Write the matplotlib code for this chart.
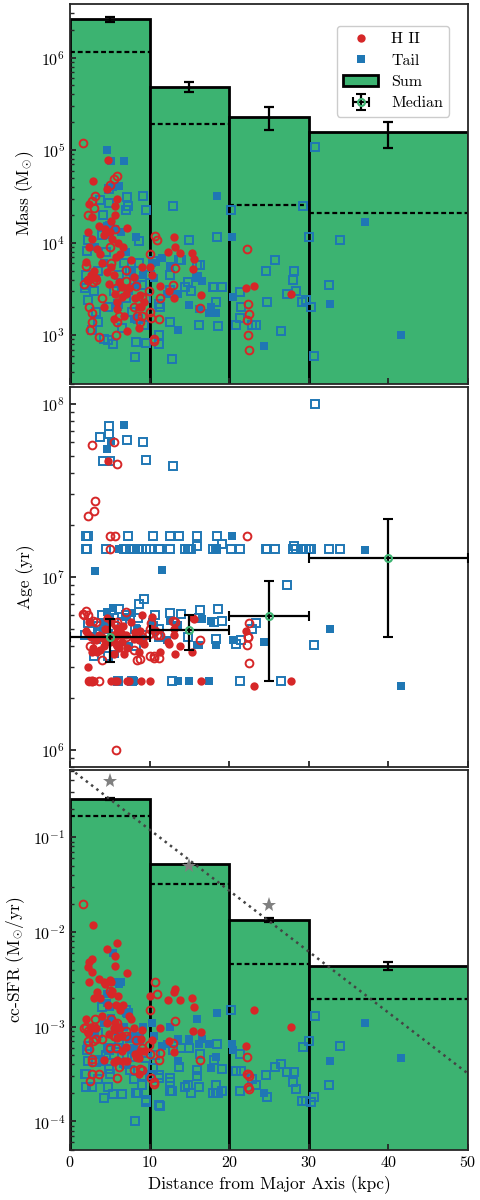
import numpy as np
import matplotlib
matplotlib.use("Agg")
import matplotlib.pyplot as plt

plt.rcParams.update({
    "font.family": "serif",
    "font.serif": ["cmr10"],
    "mathtext.fontset": "cm",
    "axes.unicode_minus": False,
    "axes.formatter.use_mathtext": True,
    "font.size": 11,
    "axes.labelsize": 12.5,
})

# ---- binned quantities ----
bin_edges = [0, 10, 20, 30, 50]
mass_sum = [2.6e6, 4.8e5, 2.26e5, 1.56e5]
mass_err_lo = [1.5e5, 6.0e4, 6.1e4, 5.0e4]
mass_err_hi = [1.6e5, 7.0e4, 6.4e4, 4.8e4]
mass_dash = [1.14e6, 1.94e5, 2.56e4, 2.07e4]

age_med = [4.48e6, 4.94e6, 5.97e6, 1.28e7]
age_err_lo = [1.24e6, 1.16e6, 3.47e6, 8.3e6]
age_err_hi = [1.22e6, 1.11e6, 3.53e6, 8.7e6]

sfr_sum = [0.255, 0.0528, 0.0134, 0.00438]
sfr_err = [0.007, 0.0, 0.0006, 0.00045]
sfr_dash = [0.167, 0.0325, 0.00465, 0.00197]

star_x = [5, 15, 25]
star_sfr = [0.39, 0.0496, 0.0192]
fit_x = [0, 50]
fit_sfr = [0.53, 3.2e-4]

# ---- H II regions, filled ----
hf_x = [2.9, 4.8, 4.7, 5.9, 5.7, 2.4, 2.7, 5.6, 2.2, 7.2, 2.8, 4.2, 5.0, 5.3, 6.0, 2.4, 3.4,
        3.7, 5.8, 6.3, 4.0, 3.0, 2.6, 2.3, 3.2, 4.6, 5.2, 5.5, 6.1, 6.5, 7.0, 7.4, 8.0, 8.2,
        8.6, 8.8, 9.3, 6.8, 4.3, 5.5, 5.9, 8.6, 7.6, 6.7, 9.0, 10.1, 10.3, 11.3, 12.3, 13.1,
        13.2, 13.8, 13.0, 15.3, 15.6, 15.5, 16.5, 22.1, 23.1, 27.7, 12.4, 4.4, 3.6, 5.1, 6.5,
        4.9, 8.9, 2.0, 5.6, 5.9, 7.2]
hf_mass = [4.7e4, 7.9e4, 3.8e4, 3.0e4, 2.5e4, 2.6e4, 1.9e4, 2.0e4, 1.3e4, 1.45e4, 1.1e4, 1.2e4,
           1.3e4, 1.1e4, 1.0e4, 9.0e3, 8.5e3, 7.5e3, 7.0e3, 7.5e3, 6.0e3, 5.0e3, 4.5e3, 4.0e3,
           4.2e3, 4.8e3, 5.5e3, 4.5e3, 3.8e3, 3.3e3, 2.8e3, 3.2e3, 4.3e3, 2.5e3, 2.0e3, 2.7e3,
           2.3e3, 1.6e3, 2.0e3, 1.5e3, 2.3e3, 1.2e3, 6.5e3, 9.0e3, 5.5e3, 5.4e3, 4.5e3, 3.4e3,
           7.9e3, 1.15e4, 9.0e3, 7.7e3, 2.5e3, 7.7e3, 6.6e3, 5.2e3, 2.7e3, 3.2e3, 3.4e3, 2.8e3,
           3.0e3, 1.4e4, 1.5e4, 1.7e4, 2.6e3, 3.6e3, 2.0e3, 6.2e3, 2.8e3, 1.9e3, 1.1e3]
hf_age = [3.9e6, 4.7e7, 5.8e6, 4.0e6, 4.5e6, 5.5e6, 3.7e6, 4.5e6, 3.0e6, 3.9e6, 2.5e6, 4.0e6,
          4.2e6, 4.5e6, 4.8e6, 2.5e6, 3.7e6, 3.8e6, 4.1e6, 5.0e6, 4.5e6, 2.5e6, 4.5e6, 4.7e6,
          4.3e6, 4.4e6, 2.5e6, 4.6e6, 3.9e6, 4.2e6, 4.6e6, 2.5e6, 4.4e6, 4.8e6, 4.3e6, 4.9e6,
          4.1e6, 3.6e6, 4.4e6, 3.6e6, 5.1e6, 3.7e6, 5.5e6, 5.2e6, 6.0e6, 2.5e6, 5.9e6, 3.7e6,
          4.2e6, 5.0e6, 3.6e6, 4.0e6, 4.6e6, 3.7e6, 5.7e6, 5.8e6, 2.5e6, 4.9e6, 2.35e6, 2.5e6,
          4.1e6, 5.0e6, 4.6e6, 5.6e6, 4.7e6, 4.3e6, 2.5e6, 4.9e6, 2.5e6, 2.5e6, 2.5e6]
hf_sfr = [1.2e-2, 1.7e-3, 6.6e-3, 7.6e-3, 5.6e-3, 4.8e-3, 5.2e-3, 4.4e-3, 4.3e-3, 3.7e-3, 3.8e-3,
          3.0e-3, 3.1e-3, 2.4e-3, 2.1e-3, 3.0e-3, 2.3e-3, 2.0e-3, 1.7e-3, 1.5e-3, 1.3e-3, 2.0e-3,
          1.0e-3, 8.5e-4, 9.8e-4, 1.1e-3, 2.2e-3, 9.8e-4, 9.7e-4, 7.9e-4, 6.1e-4, 1.3e-3, 9.8e-4,
          5.2e-4, 4.7e-4, 5.5e-4, 5.6e-4, 4.4e-4, 4.5e-4, 4.2e-4, 4.5e-4, 3.2e-4, 1.2e-3, 1.7e-3,
          9.2e-4, 2.1e-3, 7.3e-4, 9.7e-4, 1.9e-3, 2.3e-3, 2.5e-3, 1.9e-3, 5.4e-4, 2.0e-3, 1.6e-3,
          9.0e-4, 8.8e-4, 6.3e-4, 1.5e-3, 9.9e-4, 7.0e-4, 2.8e-3, 3.2e-3, 3.0e-3, 5.5e-4, 8.4e-4,
          7.5e-4, 1.2e-3, 1.1e-3, 7.6e-4, 4.4e-4]

# ---- H II regions, open ----
ho_x = [1.6, 5.5, 5.9, 5.0, 3.1, 2.7, 3.0, 2.3, 5.6, 5.0, 5.8, 2.0, 2.3, 2.9, 3.2, 2.4, 2.8,
        2.7, 2.5, 3.6, 5.2, 7.0, 7.0, 5.8, 6.2, 5.9, 8.3, 9.0, 8.4, 9.0, 10.0, 9.95, 10.1, 10.2,
        10.5, 10.5, 10.7, 10.9, 13.2, 12.9, 11.3, 11.2, 16.3, 22.2, 22.4, 22.5, 22.2, 22.3, 22.5,
        1.8, 4.0, 8.0, 8.8]
ho_mass = [1.2e5, 4.9e4, 5.2e4, 4.2e4, 3.2e4, 2.8e4, 2.4e4, 2.0e4, 1.4e4, 9.0e3, 1.0e3, 5.6e3,
           4.0e3, 3.8e3, 4.0e3, 2.0e3, 1.75e3, 1.4e3, 1.15e3, 9.6e2, 6.0e3, 5.1e3, 3.9e3, 3.2e3,
           1.6e3, 1.4e3, 3.4e3, 2.6e3, 1.6e3, 1.6e3, 7.5e3, 3.0e3, 1.8e3, 1.55e3, 9.1e2, 8.6e2,
           1.17e4, 1.08e4, 5.3e3, 3.5e3, 2.5e3, 1.5e3, 1.95e3, 8.6e3, 2.2e3, 1.7e3, 1.45e3, 1.0e3,
           6.9e2, 3.6e3, 2.5e3, 2.0e3, 1.4e3]
ho_age = [6.1e6, 6.0e7, 4.5e7, 1.73e7, 2.75e7, 5.8e7, 2.4e7, 2.25e7, 1.73e7, 1.45e7, 1.0e6, 6.4e6,
          6.0e6, 5.6e6, 5.5e6, 2.5e6, 2.5e6, 2.5e6, 4.0e6, 2.5e6, 5.0e6, 6.3e6, 4.5e6, 5.3e6,
          4.2e6, 5.5e6, 4.6e6, 4.3e6, 3.3e6, 4.5e6, 5.0e6, 4.7e6, 3.5e6, 5.4e6, 3.5e6, 3.4e6,
          4.9e6, 4.6e6, 5.5e6, 5.6e6, 4.6e6, 3.4e6, 4.3e6, 1.73e7, 4.5e6, 5.4e6, 4.05e6, 4.5e6,
          3.2e6, 6.0e6, 3.3e6, 3.8e6, 3.35e6]
ho_sfr = [1.96e-2, 8.0e-4, 1.1e-3, 2.4e-3, 1.2e-3, 4.6e-4, 1.0e-3, 9.0e-4, 8.0e-4, 6.0e-4, 1.0e-3,
          1.0e-3, 7.1e-4, 7.0e-4, 7.5e-4, 5.8e-4, 4.2e-4, 3.2e-4, 2.7e-4, 3.2e-4, 1.2e-3, 8.0e-4,
          9.0e-4, 6.0e-4, 3.8e-4, 2.9e-4, 7.3e-4, 6.0e-4, 4.8e-4, 3.5e-4, 1.5e-3, 6.4e-4, 5.1e-4,
          2.9e-4, 2.6e-4, 2.5e-4, 2.95e-3, 2.2e-3, 1.15e-3, 6.7e-4, 5.3e-4, 4.5e-4, 4.5e-4, 4.8e-4,
          3.2e-4, 3.0e-4, 3.2e-4, 2.3e-4, 2.2e-4, 9.6e-4, 7.5e-4, 3.5e-4, 3.6e-4]

# ---- tail clusters, filled ----
tf_x = [4.7, 5.2, 6.8, 6.2, 5.4, 18.5, 37.1, 41.6, 32.7, 24.4, 20.3, 20.5, 3.1, 11.6, 8.3, 12.2,
        13.5, 15.0, 16.0, 16.6, 16.2, 17.7, 17.5, 18.3, 13.5, 5.6, 6.4, 4.7, 5.0, 7.0, 7.8, 8.4,
        4.2, 7.4, 9.1, 10.3, 10.6, 6.0, 8.0, 12.6]
tf_mass = [1.0e5, 7.6e4, 7.6e4, 4.1e4, 4.0e4, 3.2e4, 1.66e4, 1.0e3, 2.2e3, 7.7e2, 1.14e4, 2.6e3,
           9.0e3, 6.8e3, 1.15e4, 2.8e3, 1.15e3, 2.1e3, 4.3e3, 3.9e3, 1.9e3, 2.0e3, 1.75e3, 1.75e3,
           2.8e3, 1.4e4, 1.3e4, 1.5e4, 1.2e4, 8.0e3, 5.0e3, 3.5e3, 6.0e3, 3.0e3, 4.5e3, 6.0e3,
           4.2e3, 2.0e3, 1.5e3, 5.6e3]
tf_age = [5.5e7, 6.1e7, 7.6e7, 1.45e7, 6.6e6, 1.45e7, 1.44e7, 2.35e6, 5.0e6, 4.2e6, 1.73e7, 4.3e6,
          1.08e7, 1.1e7, 1.45e7, 4.3e6, 2.5e6, 2.5e6, 4.05e6, 5.7e6, 4.05e6, 5.6e6, 2.5e6, 4.05e6,
          5.3e6, 3.6e6, 4.6e6, 6.3e6, 5.7e6, 5.9e6, 6.2e6, 5.0e6, 5.5e6, 4.0e6, 4.4e6, 5.5e6,
          5.3e6, 2.5e6, 2.5e6, 5.6e6]
tf_sfr = [1.8e-3, 1.25e-3, 1.0e-3, 2.8e-3, 6.0e-3, 1.4e-3, 1.1e-3, 4.7e-4, 4.4e-4, 2.0e-4, 6.5e-4,
          5.7e-4, 8.5e-4, 6.2e-4, 8.0e-4, 6.6e-4, 4.4e-4, 7.5e-4, 1.2e-3, 7.5e-4, 6.5e-4, 3.7e-4,
          6.5e-4, 4.8e-4, 7.5e-4, 3.0e-3, 3.0e-3, 2.2e-3, 1.6e-3, 1.4e-3, 8.0e-4, 7.0e-4, 1.1e-3,
          7.5e-4, 1.0e-3, 1.1e-3, 8.0e-4, 8.0e-4, 6.0e-4, 1.0e-3]

# ---- tail clusters, open ----
to_x = [30.8, 9.1, 7.1, 3.8, 4.9, 4.9, 9.6, 12.9, 4.1, 5.0, 7.3, 7.0, 20.2, 29.3, 33.9, 30.0,
        18.4, 14.9, 8.6, 2.3, 2.1, 6.8, 7.5, 8.0, 9.0, 9.5, 10.0, 11.2, 11.3, 12.6, 12.6, 13.7,
        10.4, 15.9, 14.5, 14.8, 15.2, 15.9, 18.0, 19.1, 18.3, 21.3, 24.7, 25.8, 28.1, 28.4, 29.7,
        32.5, 21.4, 26.5, 22.9, 23.3, 20.8, 24.6, 27.3, 30.6, 29.1, 30.3, 28.0, 21.5, 12.8, 11.2,
        11.2, 12.5, 16.2, 18.6, 16.3, 18.1, 19.1, 13.9, 10.7, 18.3, 14.8, 2.0, 2.0, 4.5, 3.0, 4.8,
        8.2, 8.3, 5.4, 4.3, 4.8, 9.5, 2.8, 1.9, 3.5, 6.5, 8.5, 7.0, 5.5, 6.2, 3.5, 4.0, 9.3, 8.6,
        7.8, 6.0, 3.3, 2.2]
to_mass = [1.07e5, 3.2e4, 3.1e4, 2.9e4, 2.7e4, 3.8e4, 2.25e4, 2.5e4, 2.0e4, 1.5e4, 2.5e4, 2.25e4,
           2.25e4, 2.5e4, 1.07e4, 1.14e4, 1.14e4, 1.07e4, 1.05e4, 1.07e4, 8.2e3, 6.0e3, 5.0e3, 4.0e3,
           3.5e3, 2.5e3, 4.5e3, 2.2e3, 2.0e3, 3.1e3, 4.5e3, 6.5e3, 6.4e3, 5.8e3, 3.3e3, 3.8e3,
           3.0e3, 4.3e3, 3.3e3, 3.3e3, 2.3e3, 2.9e3, 2.3e3, 6.5e3, 4.9e3, 3.0e3, 2.4e3, 3.5e3,
           1.55e3, 1.1e3, 1.3e3, 1.3e3, 1.3e3, 4.9e3, 2.8e3, 6.0e2, 2.3e3, 2.0e3, 4.0e3, 2.0e3,
           5.5e2, 8.0e2, 1.0e3, 1.4e3, 1.3e3, 1.25e3, 5.8e3, 3.3e3, 3.3e3, 6.5e3, 6.4e3, 2.3e3,
           3.8e3, 3.5e3, 4.5e3, 8.0e3, 3.0e3, 2.0e3, 5.8e2, 8.4e2, 8.1e2, 9.1e2, 8.8e2, 8.2e2,
           1.15e3, 3.2e3, 1.4e3, 1.2e3, 1.5e3, 2.5e3, 3.0e3, 4.5e3, 5.0e3, 1.2e4, 1.3e3, 6.0e3,
           1.8e3, 2.2e3, 1.8e3, 2.4e3]
to_age = [1.0e8, 6.0e7, 6.2e7, 6.45e7, 7.5e7, 6.7e7, 4.74e7, 4.4e7, 4.7e7, 4.7e7, 1.73e7, 1.45e7,
          1.45e7, 1.45e7, 1.45e7, 1.45e7, 1.73e7, 1.45e7, 1.45e7, 1.73e7, 1.45e7, 1.45e7, 1.45e7,
          1.45e7, 1.45e7, 1.45e7, 1.45e7, 1.45e7, 1.45e7, 1.45e7, 1.73e7, 1.73e7, 1.73e7, 1.73e7,
          1.45e7, 1.45e7, 1.45e7, 1.5e7, 1.45e7, 1.55e7, 1.45e7, 1.45e7, 1.45e7, 1.45e7, 1.5e7,
          1.45e7, 1.45e7, 1.45e7, 2.5e6, 2.5e6, 5.0e6, 5.4e6, 4.1e6, 1.45e7, 9.0e6, 4.05e6, 1.45e7,
          1.45e7, 1.45e7, 4.3e6, 2.5e6, 4.5e6, 5.0e6, 6.2e6, 5.8e6, 6.5e6, 6.45e6, 5.5e6, 5.6e6,
          6.1e6, 6.0e6, 4.4e6, 4.5e6, 1.73e7, 1.45e7, 1.45e7, 3.5e6, 3.5e6, 5.0e6, 4.0e6, 4.3e6,
          5.0e6, 4.7e6, 4.6e6, 5.0e6, 4.6e6, 4.8e6, 5.5e6, 5.8e6, 6.0e6, 5.8e6, 6.5e6, 5.2e6, 6.0e6,
          7.5e6, 7.0e6, 2.5e6, 2.5e6, 4.4e6, 5.4e6]
to_sfr = [1.3e-3, 5.3e-4, 5.0e-4, 4.5e-4, 3.6e-4, 5.7e-4, 4.7e-4, 5.7e-4, 4.3e-4, 3.2e-4, 1.4e-3,
          1.5e-3, 1.5e-3, 6.1e-4, 6.3e-4, 7.0e-4, 6.6e-4, 6.0e-4, 7.3e-4, 6.2e-4, 5.7e-4, 4.1e-4,
          3.5e-4, 2.8e-4, 2.4e-4, 1.7e-4, 3.1e-4, 1.5e-4, 1.45e-4, 2.1e-4, 2.6e-4, 3.8e-4, 3.7e-4,
          3.5e-4, 2.3e-4, 2.4e-4, 2.0e-4, 3.0e-4, 2.0e-4, 2.1e-4, 2.4e-4, 2.1e-4, 1.8e-4, 3.8e-4,
          3.3e-4, 2.2e-4, 1.65e-4, 2.4e-4, 5.1e-4, 4.0e-4, 2.8e-4, 2.4e-4, 3.4e-4, 3.1e-4, 3.3e-4,
          1.8e-4, 1.65e-4, 1.6e-4, 2.6e-4, 3.4e-4, 2.1e-4, 2.9e-4, 3.1e-4, 2.9e-4, 2.3e-4, 2.0e-4,
          5.2e-4, 4.5e-4, 3.6e-4, 6.0e-4, 5.0e-4, 2.0e-4, 2.4e-4, 2.3e-4, 3.2e-4, 5.0e-4, 9.0e-4,
          6.0e-4, 1.0e-4, 2.0e-4, 1.95e-4, 1.75e-4, 2.3e-4, 1.6e-4, 2.3e-4, 3.2e-4, 2.8e-4, 1.95e-4,
          2.0e-4, 4.0e-4, 5.0e-4, 6.5e-4, 8.5e-4, 1.6e-3, 3.0e-4, 7.5e-4, 4.8e-4, 6.0e-4, 4.2e-4,
          4.4e-4]

red = "#d62728"
blue = "#1f77b4"
green = "#3cb371"

fig, axes = plt.subplots(3, 1, figsize=(4.8, 12), sharex=True)
fig.subplots_adjust(left=0.146, right=0.975, top=0.9967, bottom=0.0417, hspace=0.0092)

left = np.array(bin_edges[:-1])
width = np.diff(bin_edges)
centre = left + width / 2


def scatter(ax, key):
    cols = {"mass": (to_mass, tf_mass, ho_mass, hf_mass),
            "age": (to_age, tf_age, ho_age, hf_age),
            "sfr": (to_sfr, tf_sfr, ho_sfr, hf_sfr)}[key]
    ax.plot(to_x, cols[0], "s", ms=5.2, mfc="none", mec=blue, mew=1.4, zorder=3)
    h_tail, = ax.plot(tf_x, cols[1], "s", ms=5.4, color=blue, mew=0, zorder=3, label="Tail")
    ax.plot(ho_x, cols[2], "o", ms=5.6, mfc="none", mec=red, mew=1.4, zorder=4)
    h_hii, = ax.plot(hf_x, cols[3], "o", ms=6.0, color=red, mew=0, zorder=4, label="H II")
    return h_hii, h_tail


# mass
ax = axes[0]
sum_bars = ax.bar(left, mass_sum, width=width, align="edge", bottom=1e-3, color=green,
                  edgecolor="k", lw=2, zorder=1, label="Sum")
ax.hlines(mass_dash, left, left + width, colors="k", linestyles=(0, (2.2, 1.3)), lw=1.6, zorder=2)
h_hii, h_tail = scatter(ax, "mass")
ax.errorbar(centre, mass_sum, yerr=[mass_err_lo, mass_err_hi], fmt="none", ecolor="k",
            elinewidth=1.6, capsize=3.5, capthick=1.6, zorder=5)
ax.set_yscale("log")
ax.set_ylim(3.0e2, 3.8e6)
ax.set_ylabel(r"Mass (M$_{\odot}$)")

# age
ax = axes[1]
scatter(ax, "age")
med = ax.errorbar(centre, age_med, xerr=width / 2, yerr=[age_err_lo, age_err_hi], fmt="o",
                  color="k", mfc="none", mec=green, ms=5, mew=1.5, elinewidth=1.6,
                  capsize=3.5, capthick=1.6, zorder=6, label="Median")
ax.set_yscale("log")
ax.set_ylim(8.0e5, 1.25e8)
ax.set_ylabel("Age (yr)")

# sfr
ax = axes[2]
ax.bar(left, sfr_sum, width=width, align="edge", bottom=1e-9, color=green,
       edgecolor="k", lw=2, zorder=1)
ax.hlines(sfr_dash, left, left + width, colors="k", linestyles=(0, (2.2, 1.3)), lw=1.6, zorder=2)
scatter(ax, "sfr")
ax.errorbar(centre, sfr_sum, yerr=sfr_err, fmt="none", ecolor="k",
            elinewidth=1.6, capsize=3.5, capthick=1.6, zorder=5)
ax.plot(fit_x, fit_sfr, ls=":", color="#444444", lw=1.8, zorder=6)
ax.plot(star_x, star_sfr, "*", ms=11, color="#808080", mew=0, zorder=7)
ax.set_yscale("log")
ax.set_ylim(5.0e-5, 0.51)
ax.set_ylabel(r"cc-SFR (M$_{\odot}$/yr)")
ax.set_xlabel("Distance from Major Axis (kpc)")
ax.set_xlim(0, 50)
ax.set_xticks([0, 10, 20, 30, 40, 50])

for ax in axes:
    for s in ax.spines.values():
        s.set_color("#262626")
        s.set_linewidth(1.3)
    ax.tick_params(which="both", direction="in", color="#262626")
    ax.tick_params(which="major", length=4.5, width=1.3, labelsize=11.5)
    ax.tick_params(which="minor", length=2.8, width=1.0)

axes[0].legend([h_hii, h_tail, sum_bars, med], ["H II", "Tail", "Sum", "Median"],
               loc="upper right", bbox_to_anchor=(0.953, 0.943), borderaxespad=0,
               fontsize=11.5, labelspacing=0.45, handlelength=2.2, framealpha=1,
               edgecolor="0.8")

fig.savefig("out.png", dpi=100)
